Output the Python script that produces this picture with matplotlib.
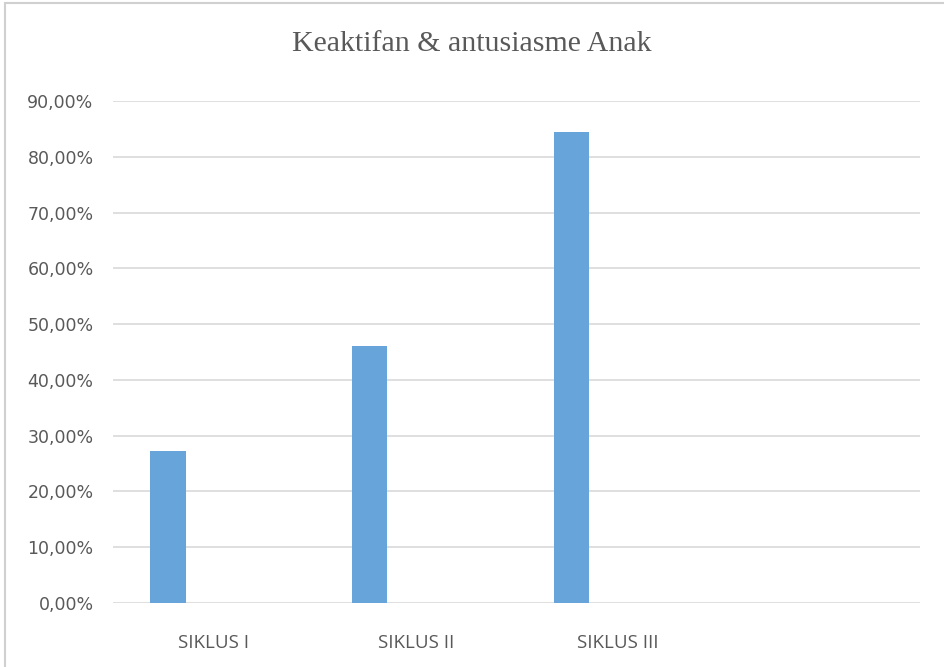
import matplotlib
matplotlib.use("Agg")
import matplotlib.pyplot as plt
from matplotlib.patches import Rectangle
from matplotlib.ticker import FuncFormatter

# --- data ---
categories = ["SIKLUS I", "SIKLUS II", "SIKLUS III", ""]
values = [27.3, 46.1, 84.4, None]
y_ticks = [0, 10, 20, 30, 40, 50, 60, 70, 80, 90]

bar_color = "#66A4D9"
text_color = "#595959"

fig = plt.figure(figsize=(9.44, 6.67), dpi=100)
# plot area in pixels: x 113..920, y 101..603 (of 944x667)
ax = fig.add_axes([113 / 944, 1 - 603 / 667, (920 - 113) / 944, (603 - 101) / 667])

# outer chart border (only left/top edges visible in the crop)
fig.patches.append(Rectangle((5 / 944, -0.1), 1.2, 1 - 3 / 667 + 0.1,
                             transform=fig.transFigure, fill=False,
                             edgecolor="#d0d0d0", linewidth=1.5))

xs = range(len(categories))
for i, v in zip(xs, values):
    if v is None:
        continue
    ax.bar(i - 0.228, v, width=0.176, color=bar_color, zorder=3)

ax.set_xlim(-0.5, len(categories) - 0.5)
ax.set_ylim(0, 90)
ax.set_yticks(y_ticks)
ax.yaxis.set_major_formatter(FuncFormatter(lambda v, p: f"{v:.2f}%".replace(".", ",")))
ax.set_xticks(list(xs))
ax.set_xticklabels(categories)

ax.grid(axis="y", color="#d9d9d9", linewidth=1.2, zorder=0)
for s in ax.spines.values():
    s.set_visible(False)
ax.tick_params(axis="both", length=0, colors=text_color)
ax.tick_params(axis="y", pad=14)
ax.tick_params(axis="x", pad=22)
for lbl in ax.get_yticklabels():
    lbl.set_fontfamily("DejaVu Sans")
    lbl.set_fontsize(12.5)
for lbl in ax.get_xticklabels():
    lbl.set_fontfamily("Open Sans")
    lbl.set_fontsize(13.5)

fig.text(0.5, 1 - 44 / 667, "Keaktifan & antusiasme Anak", ha="center", va="center",
         fontsize=21.5, color=text_color, family="Liberation Serif")

fig.savefig("out.png", dpi=100)
